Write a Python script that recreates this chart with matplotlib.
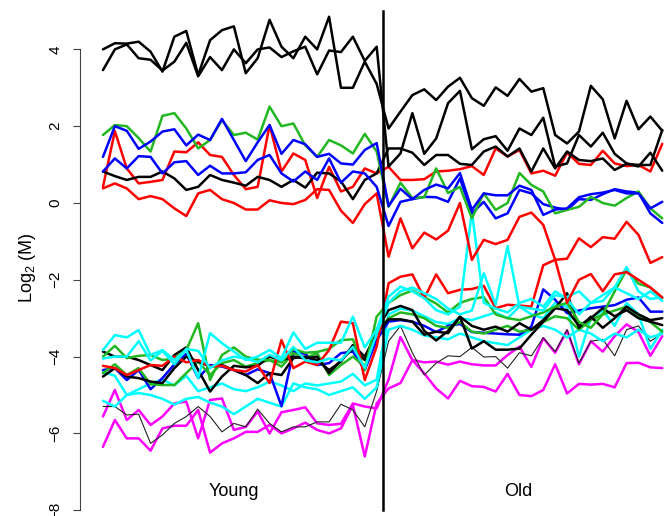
import matplotlib
matplotlib.use("Agg")
import matplotlib.pyplot as plt

plt.rcParams['font.family'] = ['Liberation Sans', 'DejaVu Sans']
plt.rcParams['mathtext.default'] = 'regular'

# 24 young samples followed by 24 old samples
n_young = 24
n_old = 24
groups = ["Young", "Old"]
y_ticks = [-8, -6, -4, -2, 0, 2, 4]

# high black pair
hi_black_1 = [4.0, 4.16, 4.15, 4.2, 3.94, 3.42, 4.33, 4.48, 3.33, 4.24, 4.5, 4.6, 3.38, 3.77, 4.77, 4.07, 3.77, 4.33, 4.0, 4.85, 3.0, 3.0, 3.68, 3.1,
              1.94, 2.38, 2.81, 2.96, 2.68, 3.03, 3.26, 2.73, 2.53, 3.01, 2.79, 3.23, 2.9, 2.99, 1.77, 1.55, 1.86, 3.05, 2.7, 1.68, 2.66, 1.92, 2.25, 1.88]
hi_black_2 = [3.46, 4.0, 4.13, 3.77, 3.73, 3.45, 3.68, 4.17, 3.3, 3.8, 3.46, 4.0, 3.64, 4.0, 4.05, 3.8, 3.95, 4.07, 3.35, 3.97, 3.93, 4.33, 3.7, 4.07,
              0.95, 1.29, 2.34, 1.28, 1.68, 2.6, 2.92, 1.4, 1.66, 1.74, 1.36, 1.94, 1.77, 2.22, 0.95, 1.03, 1.77, 1.47, 1.83, 1.28, 1.03, 0.95, 1.31, 0.84]

# middle group
mid_black = [0.82, 0.7, 0.6, 0.68, 0.68, 0.82, 0.64, 0.34, 0.42, 0.73, 0.6, 0.53, 0.45, 0.68, 0.6, 0.42, 0.6, 0.4, 0.79, 0.77, 0.56, 0.1, 0.6, 0.77,
             1.42, 1.42, 1.31, 0.99, 1.25, 1.25, 1.02, 0.99, 1.34, 1.47, 1.21, 1.42, 0.82, 1.42, 0.9, 1.34, 1.12, 1.09, 1.16, 0.86, 1.02, 0.99, 0.99, 1.9]
green_mid = [1.77, 2.03, 2.0, 1.69, 1.34, 2.27, 2.34, 1.94, 1.42, 1.64, 2.16, 1.77, 1.83, 1.65, 2.51, 2.0, 2.07, 1.5, 1.2, 1.64, 1.5, 1.29, 1.8, 1.34,
             -0.1, 0.53, 0.13, 0.15, 0.9, 0.26, 0.42, -0.4, 0.25, -0.18, 0.0, 0.78, 0.47, 0.3, -0.27, -0.18, -0.1, 0.16, 0.0, -0.07, 0.13, 0.3, -0.14, -0.4]
blue_mid_1 = [1.2, 2.0, 1.88, 1.41, 1.6, 1.86, 1.92, 1.5, 1.78, 1.64, 2.19, 1.64, 1.09, 1.58, 2.03, 1.28, 1.64, 1.53, 1.2, 1.28, 1.03, 1.0, 1.38, 1.56,
              -0.08, 0.37, 0.1, 0.34, 0.48, 0.38, 0.78, -0.18, 0.25, 0.2, 0.2, 0.45, 0.34, -0.31, -0.17, -0.14, 0.15, 0.23, 0.27, 0.34, 0.25, 0.25, -0.14, 0.03]
blue_mid_2 = [0.82, 1.16, 0.9, 1.22, 1.2, 0.77, 1.06, 1.09, 0.73, 0.97, 0.77, 0.77, 0.8, 1.12, 1.25, 0.77, 0.56, 0.82, 0.6, 1.16, 0.53, 0.82, 0.77, 0.42,
              -0.6, 0.03, 0.1, 0.16, 0.15, 0.03, 0.64, -0.27, 0.03, -0.4, -0.27, 0.34, 0.25, -0.03, -0.12, -0.18, 0.1, 0.08, 0.23, 0.36, 0.3, 0.27, -0.27, -0.52]
red_mid_1 = [0.42, 1.87, 0.9, 0.51, 0.55, 0.6, 1.34, 1.32, 1.58, 1.25, 1.2, 0.73, 0.36, 0.42, 2.03, 0.82, 1.29, 1.12, 0.13, 0.94, 0.3, 0.42, 0.9, 0.77,
             0.94, 0.6, 0.6, 0.62, 0.82, 0.84, 0.88, 0.96, 0.73, 1.42, 1.21, 1.38, 0.77, 0.84, 0.71, 1.31, 1.02, 0.99, 1.36, 1.03, 0.96, 0.99, 0.82, 1.54]
red_mid_2 = [0.38, 0.51, 0.38, 0.1, 0.18, 0.1, -0.14, -0.34, 0.25, 0.34, 0.1, 0.0, -0.17, -0.17, 0.07, 0.0, -0.03, 0.08, 0.36, 0.34, -0.2, -0.52, -0.03, 0.25,
             -1.4, -0.4, -1.18, -0.77, -0.95, -0.72, 0.0, -1.48, -0.96, -1.07, -0.96, -0.36, -0.25, -0.57, -1.48, -2.6, -2.0, -1.85, -2.3, -1.86, -1.8, -2.0, -2.2, -2.46]

# low group
red_low = [-4.24, -4.3, -4.48, -4.35, -4.22, -4.24, -4.0, -4.15, -4.09, -4.26, -4.24, -4.35, -4.39, -4.22, -4.69, -3.57, -4.3, -4.13, -4.22, -3.83, -3.09, -3.13, -4.61, -3.74,
           -2.09, -1.92, -1.86, -2.48, -1.86, -2.35, -2.26, -2.24, -2.16, -2.74, -2.65, -2.67, -2.7, -1.62, -1.48, -1.45, -0.92, -1.15, -0.89, -0.93, -0.49, -0.83, -1.56, -1.41]
green_low_1 = [-4.0, -3.72, -4.04, -3.98, -3.96, -4.09, -4.05, -3.83, -3.13, -4.61, -3.96, -3.76, -4.0, -4.08, -4.09, -4.15, -3.8, -3.9, -3.88, -3.8, -3.57, -3.55, -4.35, -2.96,
               -2.6, -2.4, -2.28, -2.45, -2.62, -2.85, -2.6, -2.5, -2.45, -2.9, -3.0, -3.05, -2.95, -2.85, -2.7, -2.6, -3.1, -3.25, -2.9, -2.3, -1.74, -2.1, -2.2, -2.48]
green_low_2 = [-4.43, -4.2, -4.48, -4.3, -4.72, -4.74, -4.74, -4.43, -4.13, -4.48, -4.17, -4.09, -4.26, -4.17, -4.09, -4.26, -3.91, -4.04, -3.91, -4.48, -4.22, -4.0, -4.26, -3.35,
               -3.0, -2.85, -2.9, -3.0, -3.2, -3.25, -3.1, -3.35, -3.4, -3.3, -3.2, -3.35, -3.3, -3.1, -2.95, -3.0, -3.3, -3.05, -2.9, -2.8, -2.7, -2.95, -3.1, -3.35]
blue_low = [-4.35, -4.3, -4.61, -4.35, -4.85, -4.56, -4.2, -3.93, -4.56, -4.22, -4.26, -4.35, -4.48, -4.33, -4.43, -5.29, -3.87, -3.93, -4.22, -4.17, -3.91, -3.87, -4.35, -3.57,
            -3.09, -3.05, -3.09, -3.2, -3.36, -3.2, -3.15, -3.36, -3.38, -3.4, -3.42, -3.43, -3.22, -2.25, -2.52, -2.87, -2.8, -2.74, -2.7, -2.66, -2.52, -2.46, -2.83, -2.83]
black_low_1 = [-3.87, -4.0, -4.0, -4.09, -4.22, -4.35, -3.96, -3.76, -4.35, -4.91, -4.52, -4.24, -4.28, -4.24, -4.0, -4.1, -4.0, -4.05, -4.0, -4.43, -4.1, -3.79, -4.09, -3.3,
               -2.79, -2.68, -2.79, -3.33, -3.58, -3.33, -2.96, -3.79, -3.6, -3.82, -3.82, -3.79, -3.43, -3.09, -2.74, -2.35, -3.25, -2.96, -3.25, -3.0, -2.7, -2.9, -3.05, -3.0]
black_low_2 = [-4.52, -4.3, -4.52, -4.56, -4.65, -4.69, -4.3, -4.0, -4.13, -4.26, -4.22, -4.35, -4.48, -4.69, -4.43, -4.48, -4.04, -4.0, -4.09, -4.35, -4.13, -3.7, -4.0, -3.4,
               -3.03, -3.03, -3.09, -3.43, -3.35, -3.39, -2.96, -3.2, -3.3, -3.22, -3.35, -3.13, -3.3, -3.05, -2.74, -2.79, -3.2, -3.0, -2.74, -2.95, -2.79, -3.0, -3.09, -3.18]
cyan_1 = [-3.83, -3.44, -3.5, -3.31, -3.96, -3.83, -4.09, -3.83, -4.56, -3.39, -3.65, -3.87, -4.09, -4.0, -3.83, -4.04, -3.37, -3.8, -3.64, -3.64, -3.64, -2.96, -3.76, -3.3,
          -2.44, -2.18, -2.3, -2.48, -2.79, -2.9, -2.7, -0.23, -2.6, -2.75, -2.85, -2.6, -2.5, -2.7, -2.3, -2.5, -2.9, -2.6, -2.4, -2.2, -1.67, -2.3, -2.5, -2.45]
cyan_2 = [-4.05, -4.0, -4.0, -3.6, -4.1, -3.85, -4.2, -3.8, -3.85, -4.3, -4.1, -4.0, -4.05, -4.15, -3.95, -4.1, -3.75, -4.1, -4.15, -4.05, -4.1, -3.75, -4.3, -3.4,
          -2.6, -2.3, -2.2, -2.35, -2.5, -2.75, -2.9, -2.8, -1.83, -2.65, -1.12, -2.7, -2.75, -2.8, -2.4, -2.45, -2.3, -2.6, -2.55, -2.2, -2.35, -2.5, -2.3, -2.55]
cyan_3 = [-4.4, -4.5, -5.0, -4.85, -4.7, -4.6, -4.75, -4.5, -4.9, -4.8, -4.7, -4.85, -4.9, -4.8, -4.65, -4.75, -4.9, -4.7, -4.75, -4.7, -4.65, -4.45, -4.75, -4.6,
          -2.9, -2.75, -2.8, -2.95, -3.1, -3.15, -3.0, -3.05, -2.95, -2.85, -3.0, -2.7, -2.9, -3.0, -2.6, -2.7, -4.0, -3.0, -2.8, -3.2, -2.6, -2.9, -3.8, -3.3]
cyan_4 = [-5.15, -5.3, -5.0, -4.95, -5.0, -5.1, -5.25, -5.1, -5.05, -5.2, -5.3, -5.5, -5.3, -5.1, -5.2, -5.3, -4.7, -4.8, -4.85, -5.0, -4.9, -4.8, -5.1, -4.8,
          -3.3, -3.2, -3.3, -3.45, -3.5, -3.55, -3.4, -3.5, -3.6, -3.65, -3.7, -3.5, -3.3, -3.2, -3.3, -3.5, -3.3, -3.4, -3.6, -3.4, -3.5, -3.3, -3.5, -3.4]
thin_black = [-5.3, -5.3, -5.52, -5.5, -6.26, -6.04, -5.74, -5.56, -5.3, -5.56, -5.96, -5.74, -5.83, -5.37, -5.74, -5.96, -5.83, -5.83, -5.7, -5.7, -5.24, -5.39, -5.83, -4.9,
              -3.6, -3.2, -3.9, -4.48, -4.17, -3.98, -4.0, -3.76, -4.01, -4.0, -4.3, -3.9, -3.98, -3.51, -3.87, -3.3, -4.17, -3.6, -3.55, -3.98, -3.3, -3.2, -3.6, -3.4]
magenta_1 = [-5.56, -4.87, -5.65, -5.39, -5.78, -5.56, -5.22, -5.17, -6.13, -5.13, -5.09, -5.91, -5.83, -5.43, -6.0, -5.45, -5.39, -5.32, -5.74, -5.78, -5.75, -5.22, -5.3, -5.35,
             -4.6, -3.49, -4.09, -4.15, -4.13, -4.21, -4.13, -4.2, -4.23, -4.23, -3.96, -3.74, -4.27, -3.52, -3.9, -3.32, -4.2, -3.6, -3.87, -3.47, -3.16, -3.36, -3.98, -3.47]
magenta_2 = [-6.35, -5.65, -6.13, -6.13, -6.45, -5.87, -5.8, -5.8, -5.39, -6.5, -6.26, -6.13, -5.96, -5.96, -5.78, -6.0, -5.87, -5.72, -5.91, -6.0, -5.87, -5.26, -6.6, -5.22,
             -4.83, -4.69, -4.09, -4.44, -4.83, -5.09, -4.63, -4.77, -4.79, -4.91, -4.45, -5.0, -5.03, -4.87, -4.2, -4.96, -4.71, -4.73, -4.71, -4.8, -4.17, -4.16, -4.28, -4.3]

GREEN = '#22B822'
lines = [
    (magenta_2, '#FF00FF', 1.8), (magenta_1, '#FF00FF', 1.8),
    (thin_black, '#222222', 0.8),
    (cyan_4, '#00FFFF', 1.8), (cyan_3, '#00FFFF', 1.8),
    (blue_low, '#0000FF', 1.8), (green_low_2, GREEN, 1.8),
    (black_low_2, 'black', 1.8), (black_low_1, 'black', 1.8),
    (green_low_1, GREEN, 1.8), (red_low, '#FF0000', 1.8),
    (cyan_2, '#00FFFF', 1.8), (cyan_1, '#00FFFF', 1.8),
    (red_mid_2, '#FF0000', 1.8), (red_mid_1, '#FF0000', 1.8),
    (mid_black, 'black', 1.8),
    (blue_mid_2, '#0000FF', 1.8), (green_mid, GREEN, 1.8), (blue_mid_1, '#0000FF', 1.8),
    (hi_black_2, 'black', 1.8), (hi_black_1, 'black', 1.8),
]

x = list(range(n_young + n_old))

fig = plt.figure(figsize=(6.70, 5.16), dpi=100)
ax = fig.add_axes([80 / 670, 0, 590 / 670, 1])

for vals, col, lw in lines:
    ax.plot(x, vals, color=col, lw=lw, solid_joinstyle='round', solid_capstyle='round')

# split between the two groups
split = n_young - 0.5
ax.plot([split, split], [-8, 5.0], color='black', lw=1.8)

ax.text((n_young - 1) / 2 - 0.5, -7.5, groups[0], ha='center', va='center', fontsize=13)
ax.text(n_young + (n_old - 1) / 2 - 0.6, -7.5, groups[1], ha='center', va='center', fontsize=13)

ax.set_xlim(-1.93, 47.65)
ax.set_ylim(-8.151, 5.286)
ax.set_xticks([])
ax.set_yticks(y_ticks)
ax.set_yticklabels([str(t).replace('-', '\u2212') for t in y_ticks], rotation=90, va='center')
ax.tick_params(axis='y', length=5, width=0.8, color='#444444', labelsize=11, pad=7.5)
for s in ['top', 'right', 'bottom']:
    ax.spines[s].set_visible(False)
ax.spines['left'].set_bounds(-8, 4)
ax.spines['left'].set_color('#444444')
ax.spines['left'].set_linewidth(0.8)

fig.text(27 / 670, 1 - 268 / 516, 'Log$_2$ (M)', rotation=90, ha='center', va='center', fontsize=13)

fig.savefig('out.png', dpi=100)
